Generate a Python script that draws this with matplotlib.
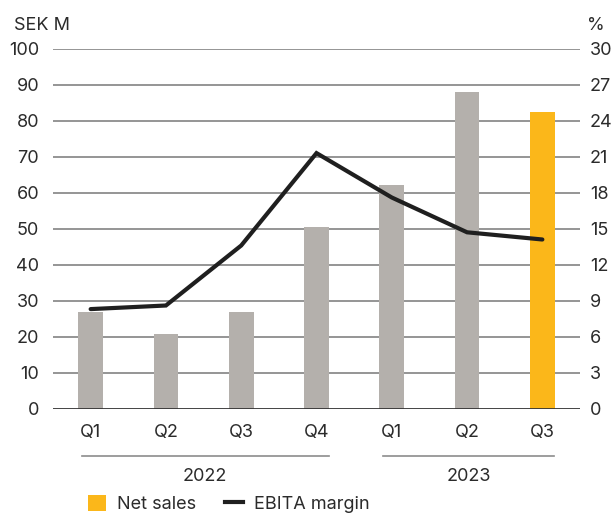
import matplotlib.pyplot as plt
from matplotlib.patches import Patch
from matplotlib.lines import Line2D
import matplotlib.transforms as mtransforms

plt.rcParams['font.family'] = ['Inter', 'DejaVu Sans']

quarters = ['Q1', 'Q2', 'Q3', 'Q4', 'Q1', 'Q2', 'Q3']
years = ['2022', '2023']
year_groups = [(0, 3), (4, 6)]
net_sales = [26.9, 20.7, 26.9, 50.5, 62.0, 88.1, 82.5]
ebita_margin = [8.3, 8.6, 13.6, 21.3, 17.6, 14.7, 14.1]
bar_colors = ['#b4b0ac'] * 6 + ['#fbb71a']

text_color = '#2b2b2b'
grid_color = '#8c8c8c'

fig = plt.figure(figsize=(6.11, 5.15), dpi=100)
ax = fig.add_axes([53 / 611, 1 - 408.7 / 515, 527 / 611, 360 / 515])
ax2 = ax.twinx()

x = list(range(len(quarters)))

# Staplar
ax.bar(x, net_sales, width=0.33, color=bar_colors, zorder=2)
ax.set_xlim(-0.5, 6.5)
ax.set_ylim(0, 100)
ax.set_yticks(range(0, 101, 10))
for y in range(10, 101, 10):
    ax.axhline(y, color=grid_color, lw=1.3, zorder=1)
ax.axhline(0, color='#333333', lw=2, zorder=3)

# Linje
ax2.plot(x, ebita_margin, color='#1f1f1f', lw=3, solid_capstyle='round',
         solid_joinstyle='miter', zorder=4)
ax2.set_ylim(0, 30)
ax2.set_yticks(range(0, 31, 3))

for a in (ax, ax2):
    for s in a.spines.values():
        s.set_visible(False)
    a.tick_params(length=0, labelsize=13, labelcolor=text_color)
ax.tick_params(axis='y', pad=10)
ax2.tick_params(axis='y', pad=7)
ax.set_zorder(ax2.get_zorder() + 1)
ax.patch.set_visible(False)
# linjen ska ligga ovanför staplarna
ax2.set_zorder(ax.get_zorder() + 1)
ax2.patch.set_visible(False)

ax.set_xticks(x)
ax.set_xticklabels(quarters)
ax.tick_params(axis='x', pad=11)

# Årsgrupper
trans = mtransforms.blended_transform_factory(ax.transData, ax.transAxes)
for year, (i0, i1) in zip(years, year_groups):
    x0, x1 = i0 - 0.12, i1 + 0.16
    ax.add_line(Line2D([x0, x1], [-0.131, -0.131], transform=trans,
                       color=grid_color, lw=1.2, clip_on=False))
    ax.text((x0 + x1) / 2, -0.188, year, transform=trans, ha='center',
            va='center', fontsize=13, color=text_color)

fig.text(14 / 611, 1 - 25 / 515, 'SEK M', ha='left', va='center',
         fontsize=13, color=text_color)
fig.text(587 / 611, 1 - 25 / 515, '%', ha='left', va='center',
         fontsize=13, color=text_color)

handles = [Patch(facecolor='#fbb71a', edgecolor='none'),
           Line2D([], [], color='#1f1f1f', lw=3)]
fig.legend(handles, ['Net sales', 'EBITA margin'], loc='center left',
           bbox_to_anchor=(72 / 611, 1 - 504 / 515), ncol=2, frameon=False,
           fontsize=13, handlelength=1.0, handleheight=1.0, handletextpad=0.6,
           columnspacing=1.6, labelcolor=text_color)

fig.savefig('out.png', dpi=100)
